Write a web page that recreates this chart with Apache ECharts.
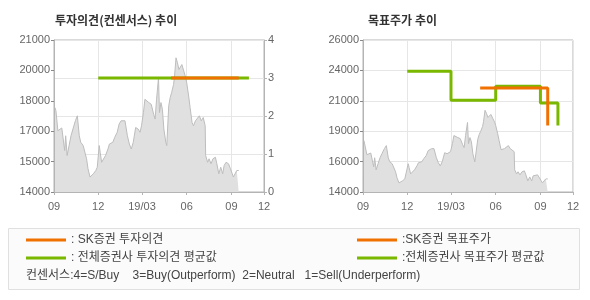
<!DOCTYPE html>
<html><head><meta charset="utf-8">
<script src="https://cdn.jsdelivr.net/npm/echarts@6/dist/echarts.min.js"></script>
<style>html,body{margin:0;padding:0;background:#fff}#c{width:590px;height:300px}</style>
</head><body><div id="c"></div>
<script>
// ---- data ----
const priceDates = ['2018-09-03','2018-09-05','2018-09-09','2018-09-12','2018-09-17','2018-09-23','2018-09-25','2018-09-28',
 '2018-10-02','2018-10-06','2018-10-10','2018-10-15','2018-10-19','2018-10-23','2018-10-26','2018-10-31',
 '2018-11-03','2018-11-07','2018-11-10','2018-11-14','2018-11-17','2018-11-21','2018-11-26','2018-11-29',
 '2018-12-03','2018-12-05','2018-12-08','2018-12-12','2018-12-16','2018-12-21','2018-12-24','2018-12-28','2018-12-31',
 '2019-01-04','2019-01-09','2019-01-13','2019-01-17','2019-01-20','2019-01-25','2019-01-30',
 '2019-02-03','2019-02-07','2019-02-11','2019-02-16','2019-02-21','2019-02-25','2019-02-28',
 '2019-03-04','2019-03-07','2019-03-11','2019-03-15','2019-03-20','2019-03-25','2019-03-28','2019-03-31',
 '2019-04-04','2019-04-06','2019-04-09','2019-04-12','2019-04-15','2019-04-19','2019-04-21','2019-04-25','2019-04-28',
 '2019-05-01','2019-05-05','2019-05-07','2019-05-10','2019-05-13','2019-05-16','2019-05-19','2019-05-22','2019-05-26','2019-05-30',
 '2019-06-01','2019-06-05','2019-06-08','2019-06-12','2019-06-15','2019-06-19','2019-06-23','2019-06-27',
 '2019-07-01','2019-07-05','2019-07-09','2019-07-10','2019-07-14','2019-07-17','2019-07-21','2019-07-25','2019-07-30',
 '2019-08-02','2019-08-06','2019-08-10','2019-08-14','2019-08-17','2019-08-21','2019-08-26','2019-08-30',
 '2019-09-02','2019-09-05','2019-09-09','2019-09-12','2019-09-16'];
const priceValues = [17890,17740,16820,16750,16950,15910,16590,15680,
 16140,16590,16900,17280,17510,16590,16290,16140,
 16210,15530,15070,14690,14760,14840,14990,15140,
 16140,15830,15370,15450,15680,15980,16210,16140,16290,
 16520,16750,17130,17280,17280,17280,16590,
 16210,15980,16290,16970,16900,16750,17050,
 17660,18270,18190,18120,18040,17580,17360,18270,
 19260,17660,18120,17810,16900,16290,16140,17970,18350,
 18580,18960,19340,20180,19950,19640,19720,19870,19570,19260,
 19030,18420,17890,17200,17050,17280,17360,17510,
 17280,17430,17050,15680,15370,15530,15300,15530,15600,
 15300,14840,15140,14840,15220,15370,15300,15070,
 15140,14690,14760,14990,14990];
const opinionSKDates = ['2019-04-30','2019-09-16'];
const opinionSKValues = [3,3];
const opinionAvgDates = ['2018-12-01','2019-10-07'];
const opinionAvgValues = [3,3];
const targetSKDates = ['2019-04-30','2019-09-16'];
const targetSKValues = [21860,19040];
const targetAvgDates = ['2018-12-01','2019-03-01','2019-06-01','2019-09-01','2019-10-07'];
const targetAvgValues = [23140,20940,22010,20735,19040];
const xTickDates = ['2018-09-01','2018-12-01','2019-03-01','2019-06-01','2019-09-01','2019-11-07'];
const xTickLabels = ['09','12','19/03','06','09','12'];
const leftPriceLabels = ['14000','15000','17000','18000','20000','21000'];
const rightPriceLabels = ['14000','16000','19000','21000','24000','26000'];
const opinionLabels = ['0','1','2','3','4'];
const names = ['SK증권 투자의견','전체증권사 투자의견 평균값','SK증권 목표주가','전체증권사 목표주가 평균값'];
const noteText = '컨센서스:4=S/Buy    3=Buy(Outperform)  2=Neutral   1=Sell(Underperform)';

// ---- build ----
const ORANGE = '#f07000', GREEN = '#7ab800';
const AX = '#b4b4b4', GRID = '#e6e6e6', LBL = '#666';
const FONT = "'Liberation Sans', 'Noto Sans CJK KR', sans-serif";
const KFONT = "'Noto Sans CJK KR', sans-serif";
const T = d => +echarts.time.parse(d);
const zip = (d, v) => d.map((x, i) => [T(x), v[i]]);
const tickTimes = xTickDates.map(T);
const xLabel = v => { let bi = 0, bd = Infinity; tickTimes.forEach((t, i) => { const dd = Math.abs(t - v); if (dd < bd) { bd = dd; bi = i; } }); return xTickLabels[bi]; };

function xAxis(gi) {
  return {
    type: 'value', gridIndex: gi, min: tickTimes[0], max: tickTimes[tickTimes.length - 1],
    axisLine: { lineStyle: { color: AX } },
    axisTick: { customValues: tickTimes, length: 3, lineStyle: { color: AX } },
    axisLabel: { customValues: tickTimes, formatter: xLabel, color: LBL, fontSize: 11, fontFamily: FONT, margin: 9, hideOverlap: false },
    splitLine: { show: true, lineStyle: { color: GRID } }
  };
}
function priceAxis(gi, min, max, labels, split) {
  const step = (max - min) / (labels.length - 1);
  return {
    type: 'value', gridIndex: gi, position: 'left', min, max, interval: step,
    axisLine: { show: true, lineStyle: { color: AX } },
    axisTick: { show: true, length: 3, lineStyle: { color: '#888' } },
    axisLabel: { formatter: v => labels[Math.round((v - min) / step)], color: LBL, fontSize: 11, fontFamily: FONT, margin: 4, showMinLabel: true, showMaxLabel: true },
    splitLine: { show: split, lineStyle: { color: GRID } }
  };
}
const lineS = (name, xi, yi, data, color, step) => ({
  name, type: 'line', xAxisIndex: xi, yAxisIndex: yi, data, showSymbol: false, symbol: 'none',
  step: step || false, color, lineStyle: { color, width: 3, cap: 'butt' }, itemStyle: { color }, z: 5, animation: false
});
const priceS = (xi, yi) => ({
  type: 'line', xAxisIndex: xi, yAxisIndex: yi, data: zip(priceDates, priceValues), showSymbol: false, symbol: 'none',
  lineStyle: { color: '#bdbdbd', width: 1 }, areaStyle: { color: '#e0e0e0', opacity: 1 }, z: 2, animation: false, silent: true
});

const option = {
  animation: false,
  title: [
    { text: '투자의견(컨센서스) 추이', left: 55, top: 14, padding: 0, textStyle: { fontSize: 12, fontWeight: 'bold', color: '#333', fontFamily: KFONT } },
    { text: '목표주가 추이', left: 368, top: 14, padding: 0, textStyle: { fontSize: 12, fontWeight: 'bold', color: '#333', fontFamily: KFONT } }
  ],
  grid: [
    { left: 54, top: 40, width: 210, height: 152, show: true, borderColor: AX, borderWidth: 1, backgroundColor: 'transparent' },
    { left: 363, top: 40, width: 210, height: 152, show: true, borderColor: AX, borderWidth: 1, backgroundColor: 'transparent' }
  ],
  xAxis: [xAxis(0), xAxis(1)],
  yAxis: [
    priceAxis(0, 14000, 21000, leftPriceLabels, false),
    { type: 'value', gridIndex: 0, position: 'right', min: 0, max: 4, interval: 1,
      axisLine: { show: true, lineStyle: { color: AX } },
      axisTick: { show: true, length: 3, lineStyle: { color: AX } },
      axisLabel: { formatter: v => opinionLabels[Math.round(v)], color: LBL, fontSize: 11, fontFamily: FONT, margin: 4 },
      splitLine: { show: true, lineStyle: { color: GRID } } },
    priceAxis(1, 14000, 25500, rightPriceLabels, true)
  ],
  legend: [
    { data: [names[0], names[1]], orient: 'vertical', left: 26, top: 234, padding: 0, itemGap: 6, itemWidth: 40, itemHeight: 3, icon: 'rect',
      formatter: n => ': ' + n, selectedMode: false, textStyle: { fontSize: 12, lineHeight: 12, color: '#444', fontFamily: FONT } },
    { data: [names[2], names[3]], orient: 'vertical', left: 357, top: 234, padding: 0, itemGap: 6, itemWidth: 40, itemHeight: 3, icon: 'rect',
      formatter: n => ':' + n, selectedMode: false, textStyle: { fontSize: 12, lineHeight: 12, color: '#444', fontFamily: FONT } }
  ],
  graphic: [
    { type: 'rect', z: -10, shape: { x: 8.5, y: 228.5, width: 571, height: 61 }, style: { fill: '#fbfbfb', stroke: '#e0e0e0', lineWidth: 1 } },
    { type: 'text', x: 26, y: 275.5, style: { text: noteText, fontSize: 12, fontFamily: FONT, fill: '#444', verticalAlign: 'middle' } }
  ],
  series: [
    priceS(0, 0),
    lineS(names[1], 0, 1, zip(opinionAvgDates, opinionAvgValues), GREEN),
    lineS(names[0], 0, 1, zip(opinionSKDates, opinionSKValues), ORANGE),
    priceS(1, 2),
    lineS(names[3], 1, 2, zip(targetAvgDates, targetAvgValues), GREEN, 'end'),
    lineS(names[2], 1, 2, zip(targetSKDates, targetSKValues), ORANGE, 'end')
  ]
};
echarts.init(document.getElementById('c'), null, { renderer: 'canvas' }).setOption(option);
</script></body></html>
